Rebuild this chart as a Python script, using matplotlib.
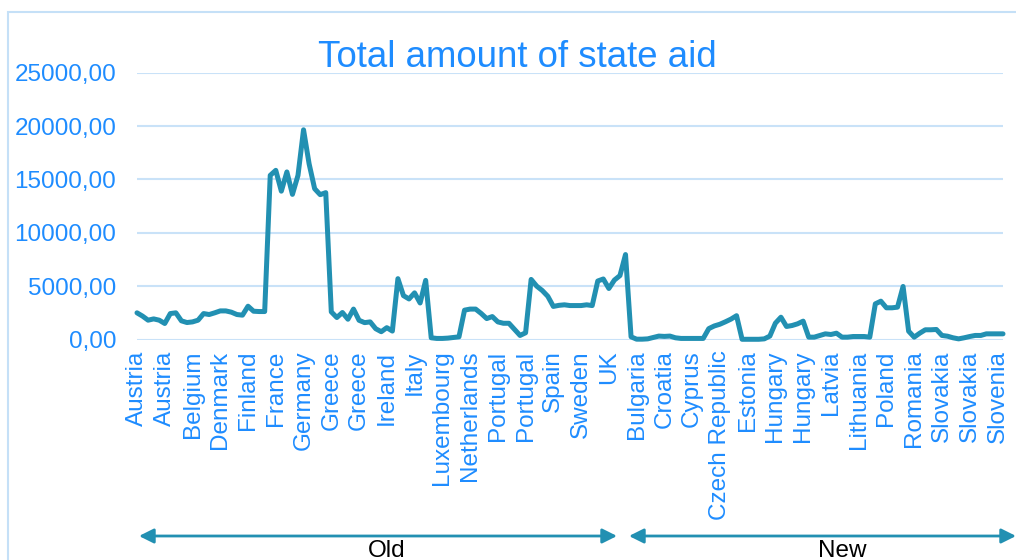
import matplotlib
matplotlib.use("Agg")
import matplotlib.pyplot as plt
from matplotlib.patches import Rectangle, FancyArrowPatch

plt.rcParams['font.family'] = ['Liberation Sans', 'DejaVu Sans']

# Countries and number of observations per country (in order)
old_countries = ["Austria", "Belgium", "Denmark", "Finland", "France", "Germany", "Greece",
                 "Ireland", "Italy", "Luxembourg", "Netherlands", "Portugal", "Spain",
                 "Sweden", "UK"]
old_counts = [7, 5, 6, 6, 5, 6, 8, 4, 6, 6, 5, 7, 6, 6, 6]
new_countries = ["Bulgaria", "Croatia", "Cyprus", "Czech Republic", "Estonia", "Hungary",
                 "Latvia", "Lithuania", "Malta", "Poland", "Romania", "Slovakia", "Slovenia"]
new_counts = [5, 5, 4, 6, 5, 7, 5, 5, 2, 6, 5, 8, 5]

# Total amount of state aid
aid = [2500, 2190, 1810, 1930, 1810, 1500, 2430,
       2500, 1750, 1590, 1650, 1810,
       2430, 2340, 2500, 2680, 2680, 2560,
       2340, 2280, 3120, 2650, 2620, 2620,
       15380, 15850, 13900, 15700, 13600,
       15380, 19650, 16470, 14130, 13570, 13760,
       2590, 2060, 2530, 1900, 2850, 1800, 1580, 1650,
       1010, 730, 1110, 790,
       5700, 4110, 3800, 4370, 3420, 5540,
       160, 100, 100, 130, 190, 250,
       2750, 2850, 2850, 2440, 1960,
       2150, 1650, 1520, 1520, 950, 380, 630,
       5630, 5000, 4590, 4050, 3100, 3200,
       3250, 3180, 3180, 3180, 3250, 3180,
       5480, 5670, 4780, 5570, 5990, 7960,
       250, 30, 30, 60, 190,
       320, 290, 320, 160, 100,
       100, 100, 100, 100,
       1020, 1270, 1430, 1660, 1910, 2230,
       20, 20, 20, 20, 60,
       320, 1530, 2090, 1220, 1310, 1470, 1720,
       220, 220, 380, 530, 470,
       590, 220, 220, 280, 280,
       280, 220,
       3340, 3590, 2970, 2970, 3030, 4970,
       780, 220, 590, 910, 910,
       940, 380, 310, 160, 60, 160, 280, 380,
       380, 530, 530, 530, 530]

y_ticks = [0, 5000, 10000, 15000, 20000, 25000]
label_step = 5

countries = []
for c, n in zip(old_countries + new_countries, old_counts + new_counts):
    countries += [c] * n

W, H = 1016, 560
fig = plt.figure(figsize=(W / 100, H / 100), dpi=100)

text_blue = '#1E8CFF'
grid_blue = '#C9E2F8'
line_col = '#2290B2'

# outer chart border
fig.patches.append(Rectangle((8 / W, -0.1), 1.2, (H - 12) / H + 0.1,
                             transform=fig.transFigure, fill=False,
                             edgecolor='#C5E0F7', linewidth=1.5))

ax = fig.add_axes([137 / W, 1 - 339.5 / H, (1003 - 137) / W, (339.5 - 72.7) / H])
x = list(range(len(aid)))
ax.plot(x, aid, color=line_col, linewidth=3.6, solid_joinstyle='round',
        solid_capstyle='round', zorder=3, clip_on=False)

ax.set_xlim(0, len(aid) - 1)
ax.set_ylim(0, 25000)
ax.set_yticks(y_ticks)
ax.set_yticklabels([f"{v:.2f}".replace('.', ',') for v in y_ticks],
                   fontsize=17.5, color=text_blue)
tick_pos = list(range(0, len(aid), label_step))
ax.set_xticks(tick_pos)
ax.set_xticklabels([countries[i] for i in tick_pos], rotation=90,
                   fontsize=17.5, color=text_blue)
ax.tick_params(axis='both', length=0)
ax.tick_params(axis='y', pad=15)
ax.tick_params(axis='x', pad=8)
for s in ax.spines.values():
    s.set_visible(False)
ax.grid(axis='y', color=grid_blue, linewidth=1.5)
ax.set_axisbelow(True)

fig.text(517.5 / W, 1 - 67 / H, "Total amount of state aid", ha='center',
         va='baseline', fontsize=26.4, color=text_blue)

# group arrows
arrow_y = 1 - 536 / H
for x0, x1, lab, xc in [(139, 617, "Old", 387), (629, 1016, "New", 842)]:
    fig.patches.append(FancyArrowPatch(
        (x0 / W, arrow_y), (x1 / W, arrow_y), transform=fig.transFigure,
        arrowstyle='<|-|>', mutation_scale=22, color=line_col, linewidth=2,
        shrinkA=0, shrinkB=0))
    fig.text(xc / W, 1 - 540 / H, lab, ha='center', va='top', fontsize=17.5,
             color='black')

fig.savefig("out.png", dpi=100)
